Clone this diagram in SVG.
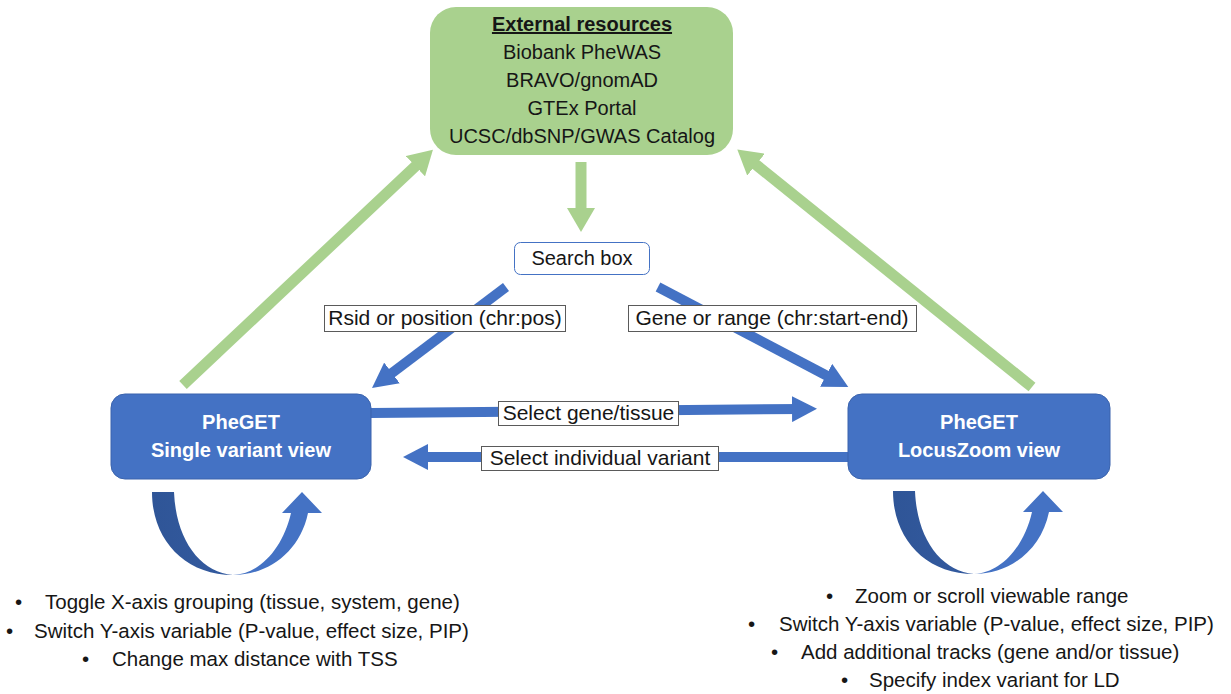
<svg xmlns="http://www.w3.org/2000/svg" width="1231" height="694" viewBox="0 0 1231 694">
<style>
  text { font-family: "Liberation Sans", Arial, sans-serif; fill: #161616; }
  .t20 { font-size: 20px; }
  .t21 { font-size: 21px; }
  .lst { font-size: 20.5px; }
  .c { text-anchor: middle; }
  .wb { fill: #ffffff; font-weight: bold; font-size: 20px; text-anchor: middle; }
  .lbl { fill: #ffffff; stroke: #5a5a5a; stroke-width: 1; }
  .blue { fill: #4472C4; stroke: #3A63AD; stroke-width: 1; }
  .gl { stroke: #A9D18E; fill: none; stroke-width: 11; }
  .bl { stroke: #4472C4; fill: none; stroke-width: 10; }
</style>
<defs>
  <marker id="gh" markerUnits="userSpaceOnUse" markerWidth="24" markerHeight="28" viewBox="0 0 24 28" refX="9" refY="14" orient="auto">
    <path d="M0,0 L24,14 L0,28 Z" fill="#A9D18E"/>
  </marker>
  <marker id="bh" markerUnits="userSpaceOnUse" markerWidth="25" markerHeight="26" viewBox="0 0 25 26" refX="10" refY="13" orient="auto">
    <path d="M0,0 L25,13 L0,26 Z" fill="#4472C4"/>
  </marker>
  <linearGradient id="ug" x1="0" y1="0" x2="1" y2="0">
    <stop offset="0" stop-color="#2F5597"/>
    <stop offset="0.45" stop-color="#335A9F"/>
    <stop offset="0.5" stop-color="#4472C4"/>
    <stop offset="1" stop-color="#4472C4"/>
  </linearGradient>
  <path id="uarrow" d="M152,492 C152,540 185,575 233,575 C268,575 300,552 308,513 L322,513 L302,492 L282,513 L291,513 C283,548 260,574 233,575 C200,572 176,540 174,492 Z" fill="url(#ug)"/>
</defs>

<g id="connectors">
  <line class="gl" x1="581" y1="162" x2="581" y2="217" marker-end="url(#gh)" stroke-width="10"/>
  <line class="gl" x1="183" y1="385" x2="422" y2="160" marker-end="url(#gh)"/>
  <line class="gl" x1="1032" y1="387" x2="749" y2="159" marker-end="url(#gh)"/>
  <line class="bl" x1="506" y1="287" x2="384" y2="379" marker-end="url(#bh)"/>
  <line class="bl" x1="658" y1="287" x2="835" y2="380" marker-end="url(#bh)"/>
  <line class="bl" x1="371" y1="413" x2="802" y2="409" marker-end="url(#bh)"/>
  <line class="bl" x1="848" y1="457" x2="418" y2="457" marker-end="url(#bh)"/>
  <use href="#uarrow"/>
  <use href="#uarrow" transform="translate(741,-1)"/>
  <g id="label-rsid">
    <rect class="lbl" x="324.5" y="305.5" width="241" height="26"/>
    <text class="t21 c" x="445" y="325">Rsid or position (chr:pos)</text>
  </g>
  <g id="label-gene">
    <rect class="lbl" x="628.5" y="305.5" width="288" height="26"/>
    <text class="t21 c" x="772" y="325">Gene or range (chr:start-end)</text>
  </g>
  <g id="label-select-gene">
    <rect class="lbl" x="498.5" y="401.5" width="180" height="24"/>
    <text class="t21 c" x="588.5" y="420">Select gene/tissue</text>
  </g>
  <g id="label-select-variant">
    <rect class="lbl" x="481.5" y="446.5" width="237" height="24"/>
    <text class="t21 c" x="600" y="465">Select individual variant</text>
  </g>
</g>

<g id="external-resources">
  <rect x="430" y="7" width="303" height="148" rx="26" fill="#A9D18E"/>
  <text class="t20 c" x="582" y="31" font-weight="bold" text-decoration="underline">External resources</text>
  <text class="t20 c" x="582" y="59">Biobank PheWAS</text>
  <text class="t20 c" x="582" y="87">BRAVO/gnomAD</text>
  <text class="t20 c" x="582" y="115">GTEx Portal</text>
  <text class="t20 c" x="582" y="143">UCSC/dbSNP/GWAS Catalog</text>
</g>

<g id="search-box">
  <rect x="514.5" y="242.5" width="135" height="32" rx="6" fill="#ffffff" stroke="#4472C4" stroke-width="1"/>
  <text class="t20 c" x="582" y="265">Search box</text>
</g>

<g id="single-variant-view">
  <rect class="blue" x="111" y="394" width="260" height="85" rx="14"/>
  <text class="wb" x="241" y="429">PheGET</text>
  <text class="wb" x="241" y="457">Single variant view</text>
</g>

<g id="locuszoom-view">
  <rect class="blue" x="848" y="394" width="262" height="85" rx="14"/>
  <text class="wb" x="979" y="429">PheGET</text>
  <text class="wb" x="979" y="457">LocusZoom view</text>
</g>

<g id="single-variant-notes" class="lst">
  <text class="lst" y="609"><tspan x="15">•</tspan><tspan x="45">Toggle X-axis grouping (tissue, system, gene)</tspan></text>
  <text class="lst" y="638"><tspan x="6">•</tspan><tspan x="34">Switch Y-axis variable (P-value, effect size, PIP)</tspan></text>
  <text class="lst" y="666"><tspan x="82">•</tspan><tspan x="112">Change max distance with TSS</tspan></text>
</g>

<g id="locuszoom-notes">
  <text class="lst" y="603"><tspan x="826">•</tspan><tspan x="855">Zoom or scroll viewable range</tspan></text>
  <text class="lst" y="631"><tspan x="748">•</tspan><tspan x="779">Switch Y-axis variable (P-value, effect size, PIP)</tspan></text>
  <text class="lst" y="659"><tspan x="771">•</tspan><tspan x="801">Add additional tracks (gene and/or tissue)</tspan></text>
  <text class="lst" y="687"><tspan x="841">•</tspan><tspan x="869">Specify index variant for LD</tspan></text>
</g>
</svg>
